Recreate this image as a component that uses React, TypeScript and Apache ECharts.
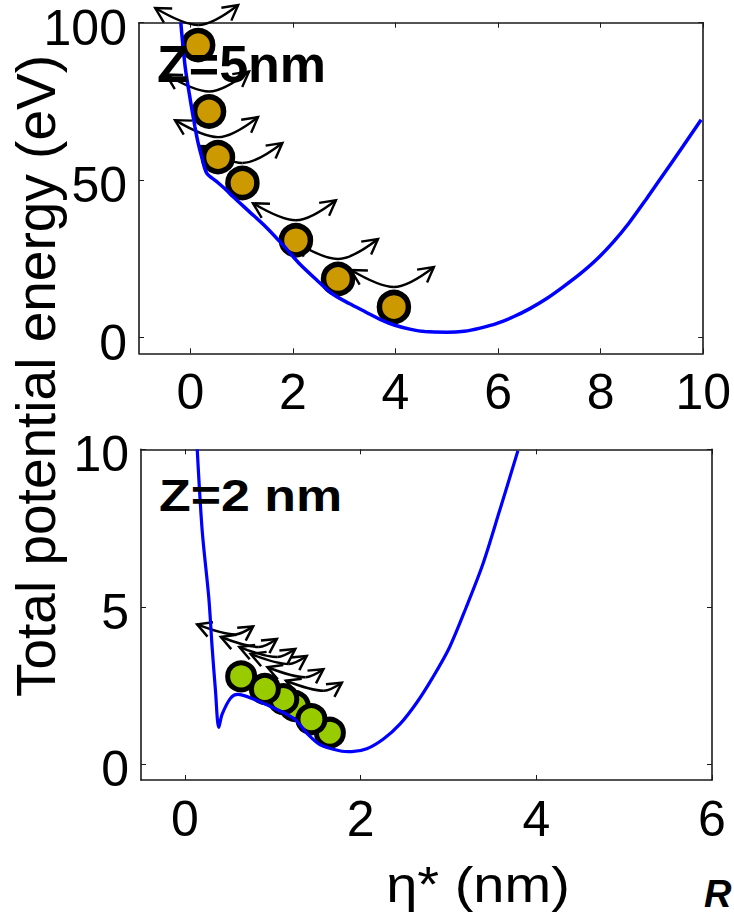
import React, { useEffect, useRef } from 'react';
import * as echarts from 'echarts';

// ---------- data ----------
const topCurve: [number, number][] = [
  [-0.185, 100], [-0.1, 86], [0.0, 75.5], [0.09, 67], [0.15, 62], [0.22, 57.5], [0.32, 52.2],
  [0.51, 49.6], [0.7, 46.9], [0.83, 44.8], [1.15, 40], [1.47, 35.2], [1.8, 29.5], [2.12, 23.6],
  [2.45, 18.5], [2.76, 14.0], [3.1, 10.8], [3.41, 8.2], [3.7, 5.8], [3.99, 3.9], [4.3, 2.6],
  [4.57, 1.9], [5.0, 1.7], [5.34, 2.0], [5.65, 3.0], [5.98, 4.5], [6.3, 6.6], [6.62, 9.2],
  [6.95, 12.4], [7.27, 16.1], [7.6, 20.2], [7.91, 24.6], [8.25, 30.4], [8.55, 36.3], [8.9, 44.2],
  [9.19, 51.0], [9.6, 60.6], [9.96, 69.2],
];
const bottomCurve: [number, number][] = [
  [0.14, 10], [0.197, 7.4], [0.272, 5.28], [0.31, 3.7], [0.348, 2.33], [0.385, 1.17],
  [0.424, 1.59], [0.52, 2.1], [0.6, 2.22], [0.8, 2.05], [1.0, 1.8], [1.24, 1.45], [1.4, 0.95],
  [1.54, 0.62], [1.76, 0.43], [1.9, 0.4], [2.07, 0.49], [2.26, 0.8], [2.45, 1.28], [2.64, 1.96],
  [2.82, 2.75], [3.01, 3.7], [3.2, 4.97], [3.39, 6.34], [3.58, 8.03], [3.79, 9.95],
];
const topBalls: [number, number][] = [
  [0.154, 92.9], [0.366, 71.8], [0.54, 57.3], [1.016, 49.1], [2.06, 30.9], [2.88, 18.6], [3.97, 9.7],
];
// drawing order (back to front)
const bottomBalls: [number, number][] = [
  [1.65, 1.0], [1.25, 1.85], [1.12, 2.07], [1.44, 1.43], [0.64, 2.79], [0.91, 2.39],
];
const topXTicks = [0, 2, 4, 6, 8, 10];
const topYTicks = [0, 50, 100];
const bottomXTicks = [0, 2, 4, 6];
const bottomYTicks = [0, 5, 10];
const topRange = { xMin: -1, xMax: 10, yMin: -5, yMax: 100 };
const bottomRange = { xMin: -0.5, xMax: 6, yMin: -0.5, yMax: 10 };
const topTag = 'Z=5nm';
const bottomTag = 'Z=2 nm';
const yTitle = 'Total potential energy (eV)';
const xTitle = 'η* (nm)';
const cornerText = 'R';

// ---------- styles ----------
const FONT = "'Liberation Sans', Arial, Helvetica, sans-serif";
const AX = '#1a1a1a';

type Geom = {
  L: number[]; B: number[]; R: number[]; C1: number[]; C2: number[]; head: number; width: number;
};
const topGeom: Geom = { L: [-43, -37], B: [0, -20], R: [40, -40], C1: [-14, -20], C2: [14, -20], head: 17, width: 2.4 };
const bottomGeom: Geom = { L: [-44, -52], B: [-6, -42], R: [12, -50], C1: [-18, -42], C2: [0, -42], head: 16, width: 2.5 };

function headPoints(tip: number[], from: number[], len: number) {
  const ang = Math.atan2(from[1] - tip[1], from[0] - tip[0]); // back direction
  const w = 0.5;
  return [
    [tip[0] + len * Math.cos(ang + w), tip[1] + len * Math.sin(ang + w)],
    [tip[0], tip[1]],
    [tip[0] + len * Math.cos(ang - w), tip[1] + len * Math.sin(ang - w)],
  ];
}

function arrowRenderer(g: Geom) {
  return (params: any, api: any) => {
    const c = api.coord([api.value(0), api.value(1)]);
    const p = (o: number[]) => [c[0] + o[0], c[1] + o[1]];
    const L = p(g.L), B = p(g.B), R = p(g.R), C1 = p(g.C1), C2 = p(g.C2);
    const st = { stroke: '#000', lineWidth: g.width, fill: null, lineJoin: 'miter' };
    return {
      type: 'group',
      children: [
        { type: 'bezierCurve', shape: { x1: L[0], y1: L[1], x2: B[0], y2: B[1], cpx1: C1[0], cpy1: C1[1] }, style: st },
        { type: 'bezierCurve', shape: { x1: B[0], y1: B[1], x2: R[0], y2: R[1], cpx1: C2[0], cpy1: C2[1] }, style: st },
        { type: 'polyline', shape: { points: headPoints(L, C1, g.head) }, style: st },
        { type: 'polyline', shape: { points: headPoints(R, C2, g.head) }, style: st },
      ],
    };
  };
}

function xAxes(gridIndex: number, min: number, max: number, ticks: number[]) {
  const common = {
    type: 'value', gridIndex, min, max,
    axisLine: { show: true, onZero: false, lineStyle: { color: AX, width: 1.6 } },
    axisTick: { show: true, inside: true, length: 5, customValues: ticks, lineStyle: { color: AX, width: 1 } },
    splitLine: { show: false },
  };
  return [
    { ...common, position: 'bottom', axisLabel: { show: true, customValues: ticks, margin: 14, fontSize: 50, color: '#000', fontFamily: FONT } },
    { ...common, position: 'top', axisLabel: { show: false } },
  ];
}
function yAxes(gridIndex: number, min: number, max: number, ticks: number[]) {
  const common = {
    type: 'value', gridIndex, min, max,
    axisLine: { show: true, onZero: false, lineStyle: { color: AX, width: 1.6 } },
    axisTick: { show: true, inside: true, length: 5, customValues: ticks, lineStyle: { color: AX, width: 1 } },
    splitLine: { show: false },
  };
  return [
    { ...common, position: 'left', axisLabel: { show: true, customValues: ticks, margin: 12, fontSize: 50, lineHeight: 10, verticalAlign: 'top', color: '#000', fontFamily: FONT } },
    { ...common, position: 'right', axisLabel: { show: false } },
  ];
}

export default function App() {
  const ref = useRef<HTMLDivElement>(null);
  useEffect(() => {
    if (!ref.current) return;
    const chart = echarts.init(ref.current, null, { renderer: 'svg' });
    const option: any = {
      animation: false,
      backgroundColor: '#fff',
      textStyle: { fontFamily: FONT },
      grid: [
        { left: 139, top: 22.7, right: 25.3, height: 330.6 },
        { left: 141, top: 449.3, right: 22, height: 330.7 },
      ],
      xAxis: [
        ...xAxes(0, topRange.xMin, topRange.xMax, topXTicks),
        ...xAxes(1, bottomRange.xMin, bottomRange.xMax, bottomXTicks),
      ],
      yAxis: [
        ...yAxes(0, topRange.yMin, topRange.yMax, topYTicks),
        ...yAxes(1, bottomRange.yMin, bottomRange.yMax, bottomYTicks),
      ],
      series: [
        {
          type: 'line', xAxisIndex: 0, yAxisIndex: 0, data: topCurve, showSymbol: false, symbol: 'none', smooth: 0.3,
          lineStyle: { color: '#0000ff', width: 3.5 }, clip: true,
        },
        {
          type: 'custom', xAxisIndex: 0, yAxisIndex: 0, data: topBalls, renderItem: arrowRenderer(topGeom), clip: false,
        },
        {
          type: 'scatter', xAxisIndex: 0, yAxisIndex: 0, data: topBalls, symbolSize: 29,
          itemStyle: { color: '#cc9900', borderColor: '#000', borderWidth: 5.5, opacity: 1 },
        },
        {
          type: 'line', xAxisIndex: 2, yAxisIndex: 2, data: bottomCurve, showSymbol: false, symbol: 'none', smooth: 0.3,
          lineStyle: { color: '#0000ff', width: 3.2 }, clip: true,
        },
        {
          type: 'custom', xAxisIndex: 2, yAxisIndex: 2, data: bottomBalls, renderItem: arrowRenderer(bottomGeom), clip: false,
        },
        {
          type: 'scatter', xAxisIndex: 2, yAxisIndex: 2, data: bottomBalls, symbolSize: 27,
          itemStyle: { color: '#99cc00', borderColor: '#000', borderWidth: 5, opacity: 1 },
        },
      ],
      graphic: [
        { type: 'text', z: 100, x: 157, y: 64, style: { text: topTag, font: `bold 52px ${FONT}`, fill: '#000', verticalAlign: 'middle' } },
        { type: 'text', z: 100, x: 159, y: 495, scaleX: 1.18, style: { text: bottomTag, font: `bold 44px ${FONT}`, fill: '#000', verticalAlign: 'middle' } },
        { type: 'text', z: 100, x: 36, y: 376, rotation: Math.PI / 2, style: { text: yTitle, font: `55px ${FONT}`, fill: '#000', align: 'center', verticalAlign: 'middle' } },
        { type: 'text', z: 100, x: 478, y: 885, scaleX: 1.12, style: { text: xTitle, font: `50px ${FONT}`, fill: '#000', align: 'center', verticalAlign: 'middle' } },
        { type: 'text', z: 100, x: 704, y: 894, style: { text: cornerText, font: `italic bold 38px ${FONT}`, fill: '#000', align: 'left', verticalAlign: 'middle' } },
      ],
    };
    chart.setOption(option);
    return () => chart.dispose();
  }, []);
  return <div ref={ref} style={{ position: 'fixed', left: 0, top: 0, width: 734, height: 917, background: '#fff' }} />;
}
